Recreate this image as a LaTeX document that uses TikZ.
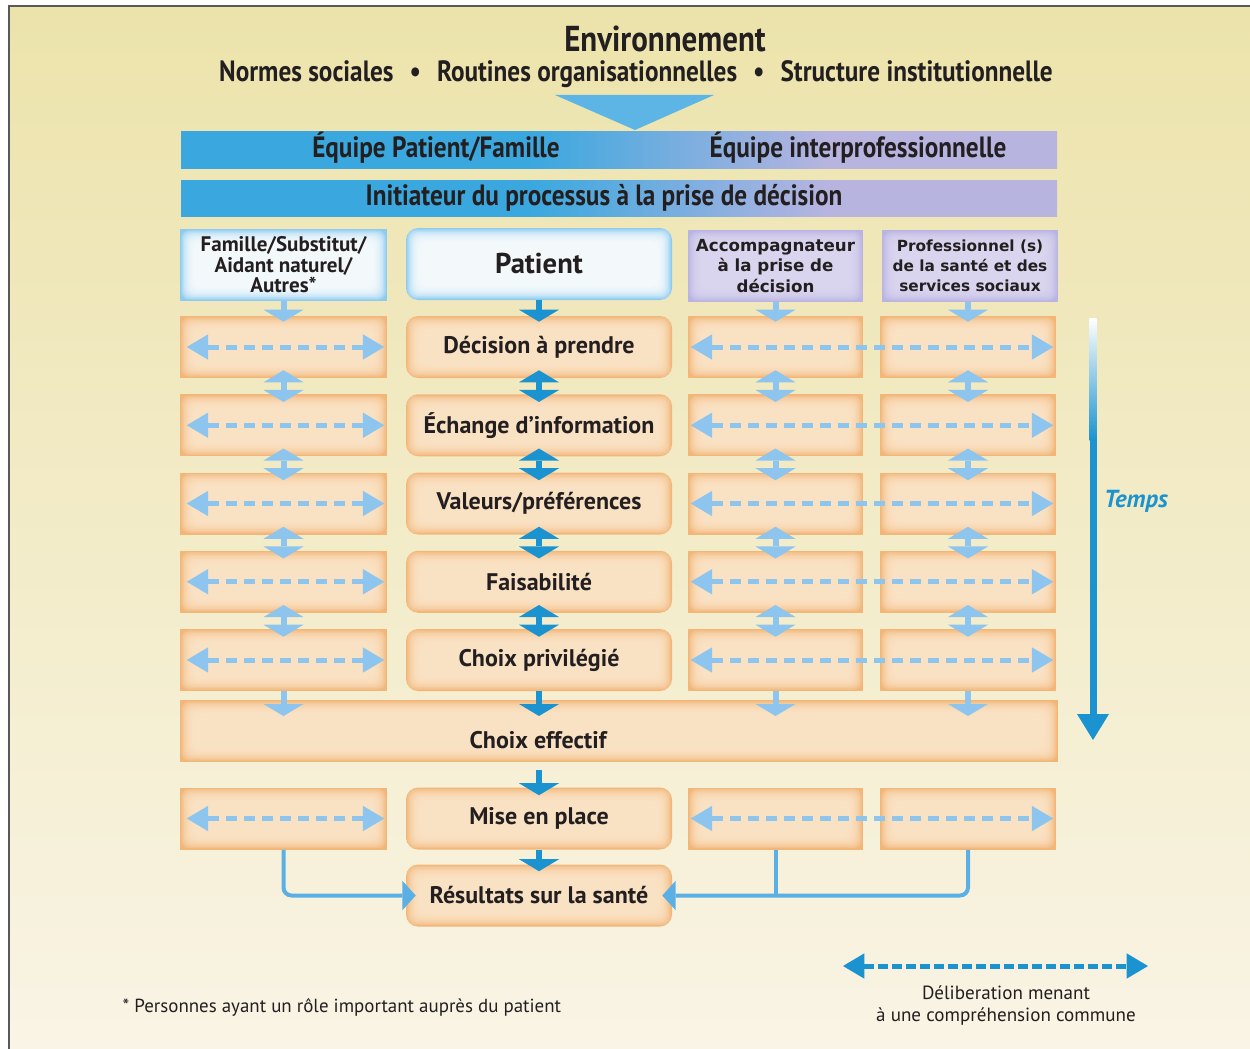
\documentclass[tikz,border=0pt]{standalone}
\usepackage{fontspec}
\setmainfont{PT Sans}
\newfontfamily\condfont{PT Sans}[FakeStretch=0.86]
\newfontfamily\wideface{DejaVu Sans}
\usetikzlibrary{arrows.meta, positioning, shapes.geometric}

\definecolor{bgtop}{RGB}{236,227,171}
\definecolor{bgmid}{RGB}{241,233,190}
\definecolor{bgbot}{RGB}{249,244,229}
\definecolor{bandblue}{RGB}{58,168,223}
\definecolor{bandlav}{RGB}{184,180,224}
\definecolor{orout}{RGB}{242,182,121}
\definecolor{orin}{RGB}{253,232,204}
\definecolor{blout}{RGB}{141,203,240}
\definecolor{lavout}{RGB}{186,180,226}
\definecolor{lavin}{RGB}{222,219,242}
\definecolor{darkarr}{RGB}{26,147,208}
\definecolor{lightarr}{RGB}{141,197,238}
\definecolor{linkblue}{RGB}{90,175,228}
\definecolor{tritop}{RGB}{92,181,229}
\definecolor{txt}{RGB}{35,31,32}

\pgfdeclarehorizontalshading{bandshade}{100bp}{color(0bp)=(bandblue); color(45bp)=(bandblue); color(62bp)=(bandlav); color(100bp)=(bandlav)}

\tikzset{
  glow/.style 2 args={fill=#1, path picture={
      \foreach \k in {1,...,10}{
        \fill[#2, opacity=0.22, rounded corners=6pt]
          ([shift={(\k*1pt,-\k*1pt)}]path picture bounding box.north west) rectangle
          ([shift={(-\k*1pt,\k*1pt)}]path picture bounding box.south east);
      }}},
  band/.style={shading=bandshade, minimum width=657pt, inner sep=0pt},
  bandtext/.style={font=\condfont\fontsize{22}{24}\selectfont\bfseries, text=txt},
  sidebox/.style={glow={orout}{orin}, minimum height=46.5pt, inner sep=0pt},
  midbox/.style={sidebox, rounded corners=9pt, minimum width=199.5pt,
    font=\fontsize{18}{20}\selectfont\bfseries, text=txt},
  famhead/.style={glow={blout}{white}, minimum width=155.25pt, minimum height=54pt,
    align=center, font=\fontsize{15.8}{15.4}\selectfont\bfseries, text=txt},
  prohead/.style={glow={lavout}{lavin}, minimum height=54pt, inner sep=0pt,
    align=center, font=\wideface\fontsize{12.5}{15.2}\selectfont\bfseries, text=txt},
  mainarr/.style={draw=darkarr, line width=4.5pt, -{Triangle[length=9pt,width=30pt,line width=0pt]}},
  mainboth/.style={mainarr, {Triangle[length=9pt,width=30pt,line width=0pt]}-{Triangle[length=9pt,width=30pt,line width=0pt]}},
  sidearr/.style={mainarr, draw=lightarr},
  sideboth/.style={mainboth, draw=lightarr},
  delib/.style={draw=lightarr, line width=3.75pt, dash pattern=on 8.5pt off 5pt,
    {Triangle[length=16pt,width=19pt,line width=0pt]}-{Triangle[length=16pt,width=19pt,line width=0pt]}},
  linkarr/.style={draw=linkblue, line width=3pt, rounded corners=6pt,
    -{Triangle[length=10pt,width=22pt,line width=0pt]}},
}

\begin{document}
\begin{tikzpicture}[x=0.75pt,y=0.75pt,yscale=-1,xscale=1]
\useasboundingbox (0,0) rectangle (1250,1049);

% background and frame
\fill[white] (0,0) rectangle (1250,1049);
\shade[top color=bgtop, middle color=bgmid, bottom color=bgbot] (9,6) rectangle (1250,1049);
\draw[line width=1.8pt, black!65] (9,1049) -- (9,6) -- (1250,6);

% environment
\node[font=\condfont\fontsize{27}{30}\selectfont\bfseries, text=txt] (env) at (665,39) {Environnement};
\node[font=\condfont\fontsize{22}{24}\selectfont\bfseries, text=txt] (envsub) at (636,74)
  {Normes sociales\hspace{12pt}\textbullet\hspace{12pt}Routines organisationnelles\hspace{12pt}\textbullet\hspace{12pt}Structure institutionnelle};
\fill[tritop] (555,95) -- (714,95) -- (635,130) -- cycle;

% bands
\node[band, minimum height=27.75pt] (equipe) at (619,149.5) {};
\node[bandtext] (eqpat) at (436,148) {Équipe Patient/Famille};
\node[bandtext] (eqpro) at (858,148) {Équipe interprofessionnelle};
\node[band, minimum height=27pt] (init) at (619,198) {};
\node[bandtext] (inittxt) at (604,198) {Initiateur du processus à la prise de décision};

% column headers
\node[famhead] (fam) at (283.5,265) {Famille/Substitut/\\Aidant naturel/\\Autres*};
\node[famhead, rounded corners=9pt, minimum width=199.5pt, font=\fontsize{21.5}{22}\selectfont\bfseries] (pat) at (539,264) {Patient};
\node[prohead, minimum width=131.25pt] (acc) at (775.5,266) {Accompagnateur\\à la prise de\\décision};
\node[prohead, minimum width=132pt, font=\wideface\fontsize{11.5}{15.2}\selectfont\bfseries] (pro) at (970,266) {Professionnel (s)\\de la santé et des\\services sociaux};

% rows
\foreach \i/\y/\lab in {1/347/{Décision à prendre}, 2/425.25/{Échange d'information},
    3/503.5/{Valeurs/préférences}, 4/581.75/{Faisabilité}, 5/660/{Choix privilégié}}{
  \node[sidebox, minimum width=155.25pt] (a\i) at (283.5,\y) {};
  \node[midbox] (b\i) at (539,\y) {\lab};
  \node[sidebox, minimum width=131.25pt] (c\i) at (775.5,\y) {};
  \node[sidebox, minimum width=132pt] (d\i) at (968,\y) {};
}
\node[sidebox, minimum width=658.5pt] (choix) at (619,731) {};
\node[font=\fontsize{18}{20}\selectfont\bfseries, text=txt] (choixtxt) at (538,740) {Choix effectif};
\node[sidebox, minimum width=155.25pt] (a6) at (283.5,818.5) {};
\node[midbox] (b6) at (539,818.5) {Mise en place};
\node[sidebox, minimum width=131.25pt] (c6) at (775.5,818.5) {};
\node[sidebox, minimum width=132pt] (d6) at (968,818.5) {};
\node[midbox] (res) at (539,895.5) {Résultats sur la santé};

% vertical arrows
\draw[mainarr] (pat.south) -- ([shift={(0,6)}]b1.north);
\draw[sidearr] (fam.south) -- ([shift={(0,6)}]a1.north);
\draw[sidearr] (acc.south) -- ([shift={(0,6)}]c1.north);
\draw[sidearr] (pro.south -| d1.north) -- ([shift={(0,6)}]d1.north);
\foreach \i/\j in {1/2,2/3,3/4,4/5}{
  \draw[mainboth] ([shift={(0,-8)}]b\i.south) -- ([shift={(0,8)}]b\j.north);
  \draw[sideboth] ([shift={(0,-8)}]a\i.south) -- ([shift={(0,8)}]a\j.north);
  \draw[sideboth] ([shift={(0,-8)}]c\i.south) -- ([shift={(0,8)}]c\j.north);
  \draw[sideboth] ([shift={(0,-8)}]d\i.south) -- ([shift={(0,8)}]d\j.north);
}
\draw[mainarr] (b5.south) -- (b5.south |- 0,716);
\draw[sidearr] (a5.south) -- (a5.south |- 0,716);
\draw[sidearr] (c5.south) -- (c5.south |- 0,716);
\draw[sidearr] (d5.south) -- (d5.south |- 0,716);
\draw[mainarr] ([shift={(0,8)}]choix.south -| b6.north) -- ([shift={(0,8)}]b6.north);
\draw[mainarr] (b6.south) -- ([shift={(0,7)}]res.north);

% deliberation arrows
\foreach \i in {1,...,6}{
  \draw[delib] ([shift={(7,0)}]a\i.west) -- ([shift={(-3,0)}]a\i.east);
  \draw[delib] ([shift={(3,0)}]c\i.west) -- ([shift={(-3,0)}]d\i.east);
}

% links to outcomes
\draw[linkarr] (a6.south) |- ([shift={(10,0)}]res.west);
\draw[linkarr] (d6.south) |- ([shift={(-10,0)}]res.east);
\draw[draw=linkblue, line width=3pt] (c6.south) -- (c6.south |- res.east);

% time arrow
\shade[top color=white, bottom color=darkarr] (1089.5,318) rectangle (1096.5,440);
\fill[darkarr] (1089.5,439) rectangle (1096.5,716);
\fill[darkarr] (1077,714) -- (1109,714) -- (1093,740) -- cycle;
\node[font=\fontsize{18.5}{20}\selectfont\bfseries\itshape, text=darkarr] (temps) at (1136,501) {Temps};

% legend
\coordinate (legl) at (843,966);
\coordinate (legr) at (1148,966);
\draw[delib, draw=darkarr, dash pattern=on 7pt off 3.5pt] (legl) -- (legr);
\node[font=\fontsize{14.3}{16.5}\selectfont, text=txt, align=center] (legtxt) at (1006,1006)
  {Déliberation menant\\à une compréhension commune};
\node[font=\fontsize{14.2}{16}\selectfont, text=txt, anchor=west] (note) at (118,1008)
  {* Personnes ayant un rôle important auprès du patient};
\end{tikzpicture}
\end{document}
